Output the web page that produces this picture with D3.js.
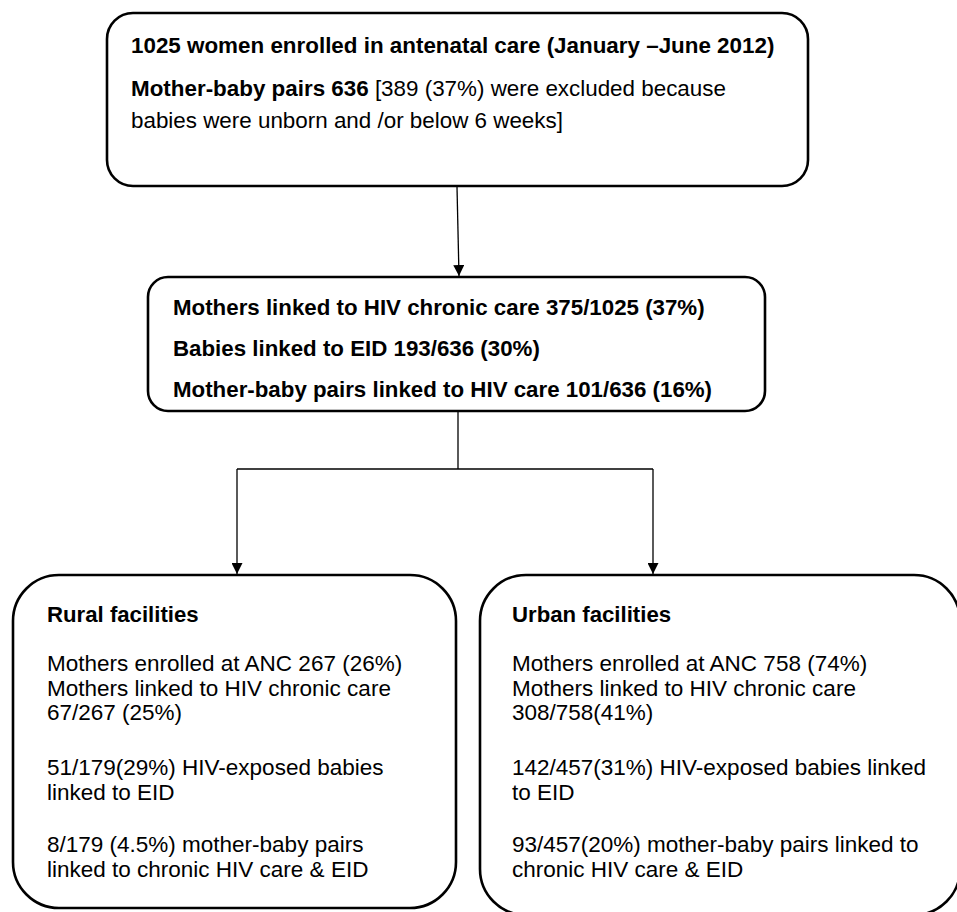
<!DOCTYPE html>
<meta charset="utf-8">
<script src="https://d3js.org/d3.v7.min.js"></script>
<style>
  body { margin: 0; background: #fff; }
  text { font-family: "Liberation Sans", Arial, sans-serif; fill: #000; }
</style>
<body>
<div id="chart"></div>
<script>
// text of each box, line by line ([bold part, normal part])
var topLines = [
  ["1025 women enrolled in antenatal care (January \u2013June 2012)", ""],
  ["Mother-baby pairs 636", " [389 (37%) were excluded because"],
  ["", "babies were unborn and /or below 6 weeks]"]
];
var midLines = [
  "Mothers linked to HIV chronic care 375/1025 (37%)",
  "Babies linked to EID 193/636 (30%)",
  "Mother-baby pairs linked to HIV care 101/636 (16%)"
];
var groups = ["Rural facilities", "Urban facilities"];
var ruralLines = [
  ["Mothers enrolled at ANC 267 (26%)", "Mothers linked to HIV chronic care", "67/267 (25%)"],
  ["51/179(29%) HIV-exposed babies", "linked to EID"],
  ["8/179 (4.5%) mother-baby pairs", "linked to chronic HIV care & EID"]
];
var urbanLines = [
  ["Mothers enrolled at ANC 758 (74%)", "Mothers linked to HIV chronic care", "308/758(41%)"],
  ["142/457(31%) HIV-exposed babies linked", "to EID"],
  ["93/457(20%) mother-baby pairs linked to", "chronic HIV care & EID"]
];

var width = 957, height = 912;

var svg = d3.select("#chart")
  .append("svg")
  .attr("width", width)
  .attr("height", height);

// arrow head
svg.append("defs").append("marker")
  .attr("id", "arrow")
  .attr("viewBox", "0 0 10 10")
  .attr("refX", 10).attr("refY", 5)
  .attr("markerWidth", 11).attr("markerHeight", 11)
  .attr("markerUnits", "userSpaceOnUse")
  .attr("orient", "auto")
  .append("path")
  .attr("d", "M0,0 L10,5 L0,10 Z")
  .attr("fill", "#000");

// box layout
var boxes = {
  top:   {x: 107, y: 13,  w: 701, h: 173, r: 26},
  mid:   {x: 148, y: 277, w: 617, h: 134, r: 20},
  rural: {x: 13,  y: 575, w: 443, h: 333, r: 46},
  urban: {x: 480, y: 575, w: 480, h: 340, r: 46}
};

Object.keys(boxes).forEach(function(k) {
  var b = boxes[k];
  svg.append("rect")
    .attr("x", b.x).attr("y", b.y)
    .attr("width", b.w).attr("height", b.h)
    .attr("rx", b.r).attr("ry", b.r)
    .attr("fill", "none")
    .attr("stroke", "#000")
    .attr("stroke-width", 2.6);
});

// connectors
var line = d3.line();
svg.append("path")
  .attr("d", line([[457, 187], [459, 276]]))
  .attr("stroke", "#000").attr("stroke-width", 1.3).attr("fill", "none")
  .attr("marker-end", "url(#arrow)");

svg.append("path")
  .attr("d", line([[458, 412], [458, 469]]))
  .attr("stroke", "#000").attr("stroke-width", 1.3).attr("fill", "none");
svg.append("path")
  .attr("d", line([[237, 469], [653, 469]]))
  .attr("stroke", "#000").attr("stroke-width", 1.3).attr("fill", "none");
[237, 653].forEach(function(x) {
  svg.append("path")
    .attr("d", line([[x, 469], [x, 574]]))
    .attr("stroke", "#000").attr("stroke-width", 1.3).attr("fill", "none")
    .attr("marker-end", "url(#arrow)");
});

// top box text
var topY = [53, 96, 128];
topLines.forEach(function(l, i) {
  var t = svg.append("text")
    .attr("x", 131).attr("y", topY[i])
    .style("font-size", "22.4px");
  if (l[0]) t.append("tspan").style("font-weight", "bold").text(l[0]);
  if (l[1]) t.append("tspan").text(l[1]);
});

// middle box text
var midY = d3.scaleLinear().domain([0, 2]).range([315, 397]);
svg.selectAll("text.mid")
  .data(midLines)
  .enter()
  .append("text")
  .attr("class", "mid")
  .attr("x", 173)
  .attr("y", function(d, i) { return midY(i); })
  .style("font-size", "22.3px")
  .style("font-weight", "bold")
  .text(function(d) { return d; });

// bottom boxes
var paraY = [671, 775, 852];
var lineGap = 24.5;
[[47, ruralLines], [512, urbanLines]].forEach(function(g, gi) {
  svg.append("text")
    .attr("x", g[0]).attr("y", 622)
    .style("font-size", "22.2px")
    .style("font-weight", "bold")
    .text(groups[gi]);
  g[1].forEach(function(para, pi) {
    para.forEach(function(s, li) {
      svg.append("text")
        .attr("x", g[0])
        .attr("y", paraY[pi] + li * lineGap)
        .style("font-size", "22.5px")
        .text(s);
    });
  });
});
</script>
</body>
